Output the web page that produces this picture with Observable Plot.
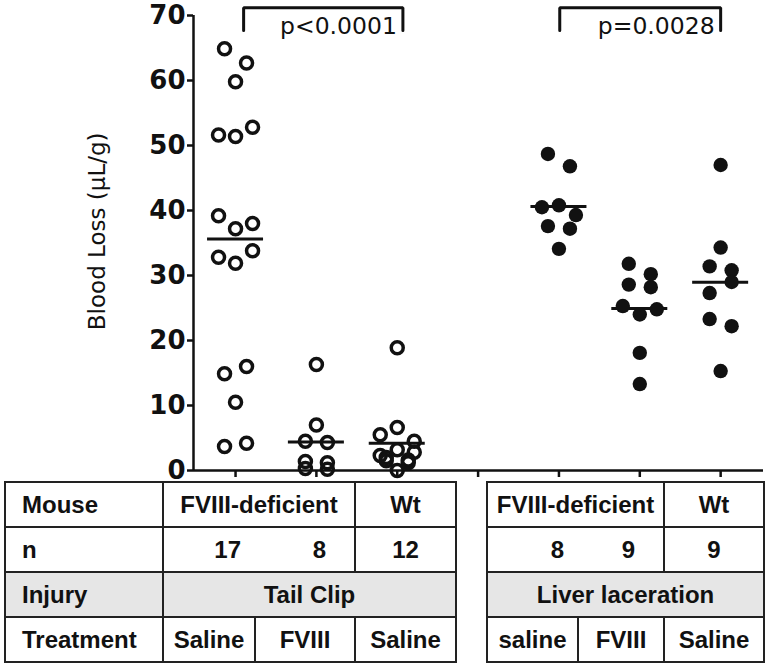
<!DOCTYPE html>
<html><head><meta charset="utf-8">
<script src="https://cdn.jsdelivr.net/npm/d3@7"></script>
<script src="https://cdn.jsdelivr.net/npm/@observablehq/plot@0.6"></script>
<style>
body{margin:0;background:#fff;}
#wrap{position:relative;width:768px;height:667px;overflow:hidden;background:#fff;}
#wrap svg{position:absolute;left:0;top:0;}
table{position:absolute;border-collapse:collapse;table-layout:fixed;font-family:"Liberation Sans",Arial,sans-serif;font-weight:bold;font-size:24px;color:#111;}
tr{height:45px;}
td{border:2px solid #222;padding:0 4px;white-space:nowrap;text-align:center;vertical-align:middle;overflow:visible;}
td.lab{text-align:left;padding-left:16px;}
tr.gray td{background:#e6e6e6;}
td.n1{text-align:right;padding-right:14px;border-right-style:hidden;}
td.n2{text-align:right;padding-right:28px;border-left-style:hidden;}
</style></head>
<body><div id="wrap"></div>
<script>
// ---- data (Blood loss, µL/g) ----
const categories = ["Tail·FVIII-def·Saline","Tail·FVIII-def·FVIII","Tail·Wt·Saline","","Liver·FVIII-def·saline","Liver·FVIII-def·FVIII","Liver·Wt·Saline"];
const tailSaline = [64.9, 62.7, 59.8, 51.6, 51.4, 52.8, 39.2, 37.2, 38.0, 32.8, 31.9, 33.8, 14.9, 16.0, 10.5, 3.7, 4.2];
const tailFVIII  = [16.3, 7.0, 4.5, 4.3, 1.4, 1.2, 0.3, 0.2];
const tailWt     = [18.9, 5.5, 6.6, 4.5, 2.3, 3.2, 2.8, 1.5, 2.0, 1.6, 1.2, 0.0];
const liverSaline = [48.7, 46.8, 40.5, 40.8, 39.3, 37.6, 37.2, 34.1];
const liverFVIII  = [31.8, 30.2, 28.6, 28.2, 25.3, 24.0, 24.8, 18.1, 13.3];
const liverWt     = [47.0, 34.3, 31.4, 30.8, 27.3, 29.0, 23.3, 22.2, 15.3];
const yTicks = [0, 10, 20, 30, 40, 50, 60, 70];
const pLabels = ["p<0.0001", "p=0.0028"];
const bracketFrom = [0.1, 4.01];
const bracketTo = [2.07, 6.0];
const yLabel = "Blood Loss (\u03bcL/g)";
// table texts
const rowLabels = ["Mouse", "n", "Injury", "Treatment"];
const mouseLeft = ["FVIII-deficient", "Wt"];
const mouseRight = ["FVIII-deficient", "Wt"];
const nLeft = [17, 8, 12];
const nRight = [8, 9, 9];
const injuries = ["Tail Clip", "Liver laceration"];
const treatLeft = ["Saline", "FVIII", "Saline"];
const treatRight = ["saline", "FVIII", "Saline"];

// ---- chart ----
const W = 768, H = 480, mL = 193, mR = 5, mT = 15, mB = 10;
const xDomain = [-0.52, 6.53];
const pxPerUnit = (W - mL - mR) / (xDomain[1] - xDomain[0]);
const T = 2.3; // row grouping threshold (value units), Prism-like scatter layout

function layout(values, name, filled) {
  const slot = categories.indexOf(name);
  const idx = d3.range(values.length).sort((a, b) => values[b] - values[a]);
  const rows = []; let cur = null;
  for (const i of idx) {
    if (cur && values[cur[0]] - values[i] <= T) cur.push(i);
    else { cur = [i]; rows.push(cur); }
  }
  const out = [];
  for (const row of rows) {
    const rest = row.slice();
    while (rest.length) {
      const k = rest.length === 4 ? 2 : Math.min(3, rest.length);
      const chunk = rest.splice(0, k).sort((a, b) => a - b);
      const step = chunk.length === 2 ? 22 : 17;
      chunk.forEach((i, j) => out.push({slot, value: values[i], filled, x: slot + (j - (chunk.length - 1) / 2) * step / pxPerUnit}));
    }
  }
  return out;
}
const series = [[tailSaline, 0, false], [tailFVIII, 1, false], [tailWt, 2, false], [liverSaline, 4, true], [liverFVIII, 5, true], [liverWt, 6, true]];
const points = series.flatMap(([v, i, f]) => layout(v, categories[i], f));
const means = series.map(([v, i]) => ({slot: i, mean: d3.mean(v)}));
const halfW = 28 / pxPerUnit;

const brackets = pLabels.map((label, i) => ({label, from: bracketFrom[i], to: bracketTo[i]}));
const bracketTop = 71.2, bracketLeg = 67.7, labelY = 68.3;
const bracketPath = brackets.flatMap((b, i) => [
  {i, x: b.from, y: bracketLeg}, {i, x: b.from, y: bracketTop},
  {i, x: b.to, y: bracketTop}, {i, x: b.to, y: bracketLeg}]);

const ink = "#111";
const svg = Plot.plot({
  width: W, height: H, marginLeft: mL, marginRight: mR, marginTop: mT, marginBottom: mB,
  style: {fontFamily: "'DejaVu Sans', sans-serif", background: "white", overflow: "visible", color: ink},
  x: {type: "linear", domain: xDomain},
  y: {domain: [0, 70]},
  marks: [
    Plot.axisY({ticks: yTicks, tickSize: 6, tickPadding: 2, fontSize: 26, fontWeight: "bold", strokeWidth: 2.5, label: null}),
    Plot.axisX({ticks: d3.range(categories.length), tickSize: 7, tickFormat: () => "", strokeWidth: 2.5, label: null}),
    Plot.ruleX([xDomain[0]], {y1: 0, y2: 70, stroke: ink, strokeWidth: 2.5}),
    Plot.ruleY([0], {stroke: ink, strokeWidth: 2.5}),
    Plot.ruleY(means, {y: "mean", x1: d => d.slot - halfW, x2: d => d.slot + halfW, stroke: ink, strokeWidth: 3}),
    Plot.dot(points.filter(d => !d.filled), {x: "x", y: "value", r: 6, stroke: ink, strokeWidth: 3.5, fill: "none"}),
    Plot.dot(points.filter(d => d.filled), {x: "x", y: "value", r: 7.2, fill: ink}),
    Plot.line(bracketPath, {x: "x", y: "y", z: "i", stroke: ink, strokeWidth: 3, strokeLinejoin: "miter"}),
    Plot.text(brackets, {x: "to", y: () => labelY, text: "label", textAnchor: "end", dx: -6, fontSize: 23.5, fill: ink}),
    Plot.text([yLabel], {x: () => xDomain[0], y: () => 36.8, text: d => d, rotate: -90, dx: -96, fontSize: 23, fill: ink})
  ]
});
const wrap = document.getElementById("wrap");
wrap.appendChild(svg);

// ---- table below ----
function cols(ws) { return "<colgroup>" + ws.map(w => `<col style="width:${w}px">`).join("") + "</colgroup>"; }
const left = document.createElement("table");
left.style.left = "4px"; left.style.top = "481px"; left.style.width = "451px";
left.innerHTML = cols([158, 92, 100, 101]) +
  `<tr><td class="lab">${rowLabels[0]}</td><td colspan="2">${mouseLeft[0]}</td><td>${mouseLeft[1]}</td></tr>` +
  `<tr><td class="lab">${rowLabels[1]}</td><td class="n1">${nLeft[0]}</td><td class="n2">${nLeft[1]}</td><td>${nLeft[2]}</td></tr>` +
  `<tr class="gray"><td class="lab">${rowLabels[2]}</td><td colspan="3">${injuries[0]}</td></tr>` +
  `<tr><td class="lab">${rowLabels[3]}</td>${treatLeft.map(t => `<td>${t}</td>`).join("")}</tr>`;
wrap.appendChild(left);

const right = document.createElement("table");
right.style.left = "486px"; right.style.top = "481px"; right.style.width = "277px";
right.innerHTML = cols([91, 86, 100]) +
  `<tr><td colspan="2">${mouseRight[0]}</td><td>${mouseRight[1]}</td></tr>` +
  `<tr><td class="n1">${nRight[0]}</td><td class="n2">${nRight[1]}</td><td>${nRight[2]}</td></tr>` +
  `<tr class="gray"><td colspan="3">${injuries[1]}</td></tr>` +
  `<tr>${treatRight.map(t => `<td>${t}</td>`).join("")}</tr>`;
wrap.appendChild(right);
</script>
</body></html>
